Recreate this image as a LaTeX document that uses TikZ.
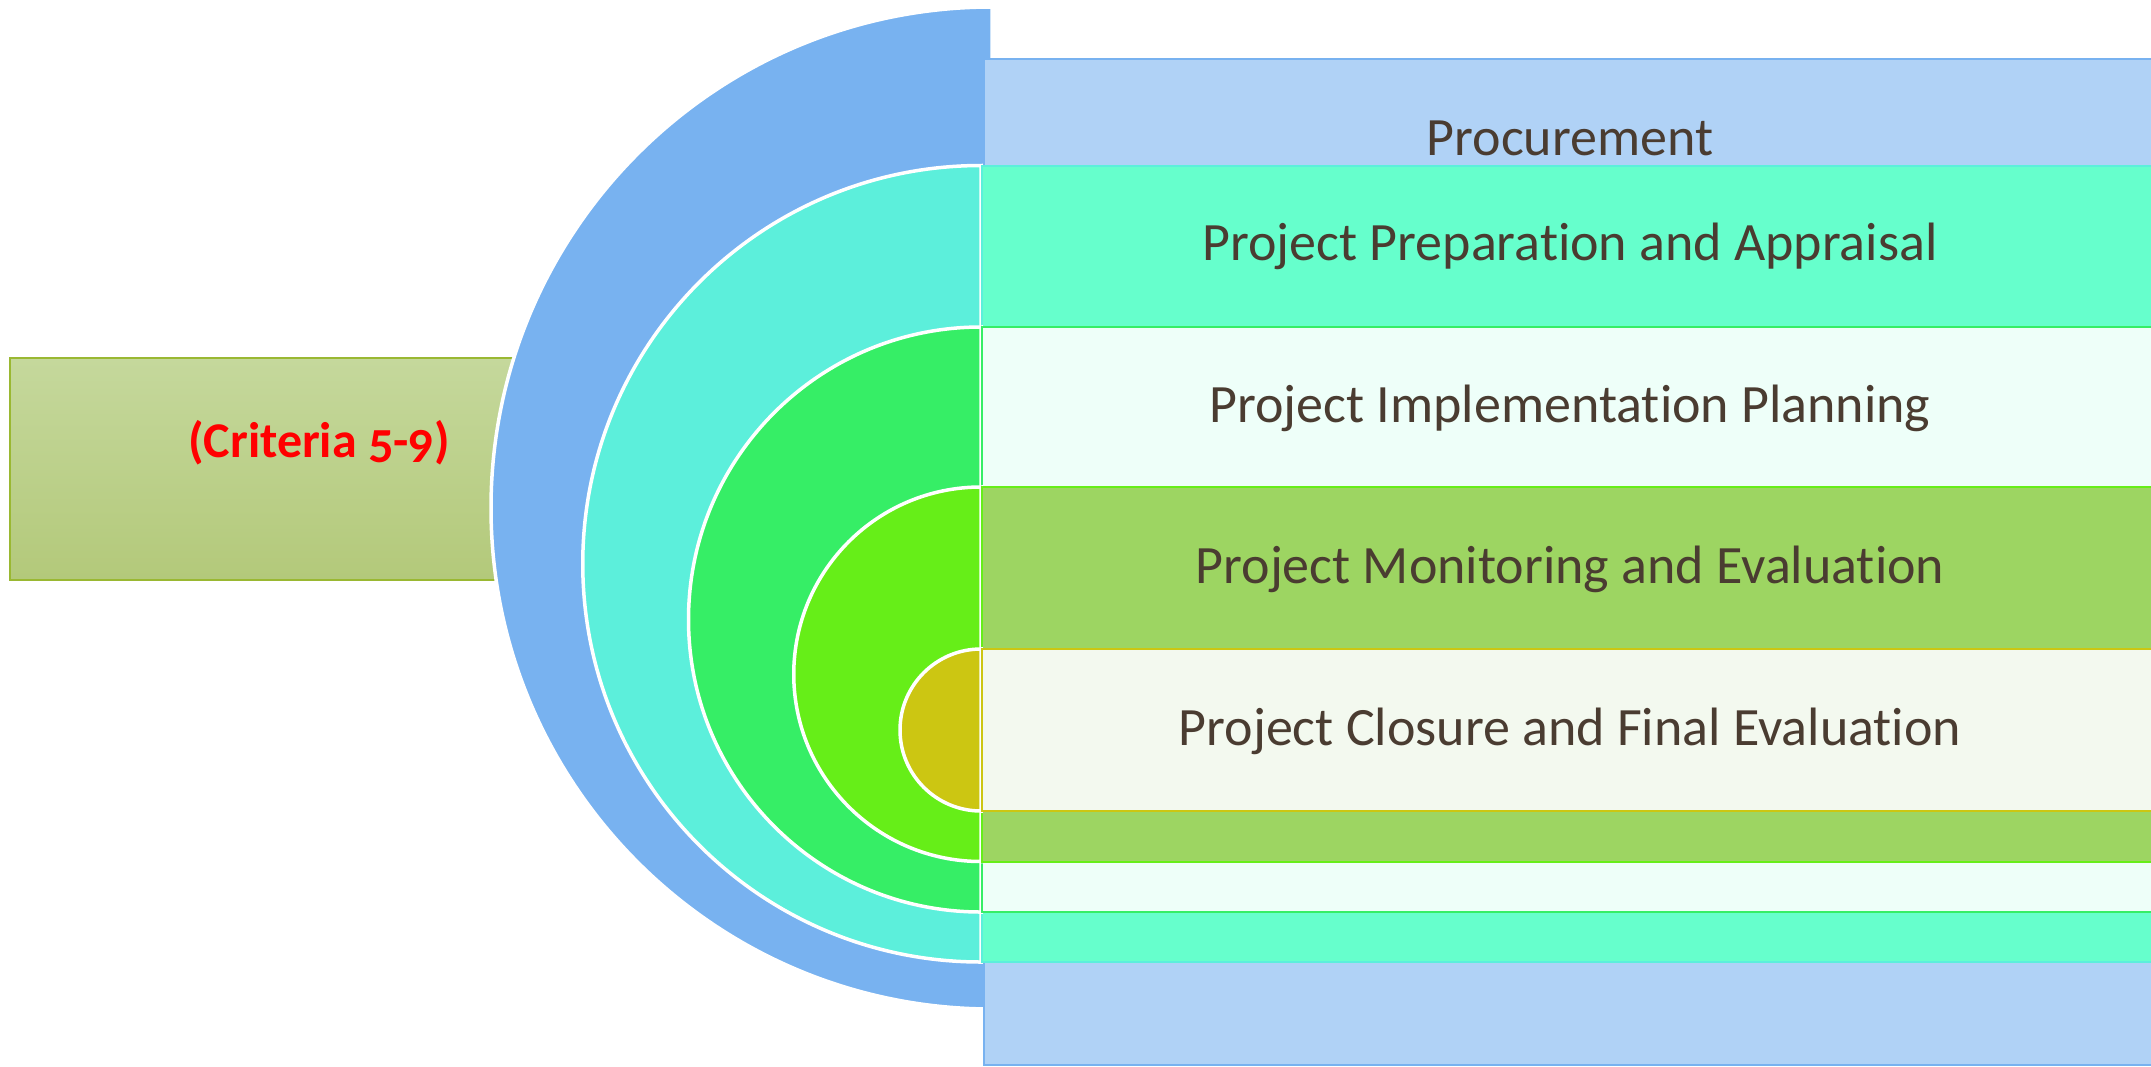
\documentclass[tikz,border=0pt]{standalone}
\usepackage{fontspec}
\setmainfont{Carlito}[Ligatures=CommonOff]
\definecolor{stagetext}{HTML}{4A3C31}
\definecolor{critTop}{HTML}{C5D89C}
\definecolor{critBottom}{HTML}{B3C97A}
\definecolor{critLine}{HTML}{9AB832}
\definecolor{blueDisc}{HTML}{78B2F0}
\definecolor{blueBand}{HTML}{B0D2F6}
\definecolor{cyanDisc}{HTML}{5CEFDB}
\definecolor{cyanBand}{HTML}{66FFCC}
\definecolor{greenDisc}{HTML}{36EE66}
\definecolor{lightBand}{HTML}{EEFFF9}
\definecolor{limeDisc}{HTML}{66EE18}
\definecolor{greenBand}{HTML}{9DD562}
\definecolor{oliveDisc}{HTML}{CCC612}
\definecolor{paleBand}{HTML}{F3F9EF}

\begin{document}
\begin{tikzpicture}[x=1pt,y=-1pt,
		half disc/.style={draw=white,line width=3.5pt},
		band/.style={line width=2pt},
		stage text/.style={anchor=base,text=stagetext,font=\fontsize{54}{60}\selectfont}]
	\useasboundingbox (0,0) rectangle (2151,1066);

	% criteria box, half hidden behind the big disc
	\shade[top color=critTop,bottom color=critBottom,draw=critLine,line width=2pt]
		(10,358) rectangle (560,580);
	\node[anchor=base,text=red,font=\bfseries\fontsize{50}{60}\selectfont\addfontfeatures{Numbers=OldStyle}] (crit) at (319,457) {(Criteria 5-9)};

	% discs and bands, outermost first
	\path[half disc,fill=blueDisc] (992,7) arc[start angle=90,end angle=270,radius=501pt] -- cycle;
	\path[band,fill=blueBand,draw=blueDisc] (984,59) rectangle (2160,1065);

	\path[half disc,fill=cyanDisc] (981,165.5) arc[start angle=90,end angle=270,radius=398.25pt] -- cycle;
	\path[band,fill=cyanBand,draw=cyanDisc] (982,166) rectangle (2160,962);

	\path[half disc,fill=greenDisc] (981,327) arc[start angle=90,end angle=270,radius=292.5pt] -- cycle;
	\path[band,fill=lightBand,draw=greenDisc] (982,327) rectangle (2160,912);

	\path[half disc,fill=limeDisc] (981,487) arc[start angle=90,end angle=270,radius=187.25pt] -- cycle;
	\path[band,fill=greenBand,draw=limeDisc] (982,487) rectangle (2160,862);

	\path[half disc,fill=oliveDisc] (981,649) arc[start angle=90,end angle=270,radius=81pt] -- cycle;
	\path[band,fill=paleBand,draw=oliveDisc] (982,649) rectangle (2160,811);

	% stage labels
	\node[stage text] (proc) at (1570,155) {Procurement};
	\node[stage text] (prep) at (1570,260) {Project Preparation and Appraisal};
	\node[stage text] (impl) at (1570,422) {Project Implementation Planning};
	\node[stage text] (mon)  at (1570,583) {Project Monitoring and Evaluation};
	\node[stage text] (clos) at (1570,745) {Project Closure and Final Evaluation};
\end{tikzpicture}
\end{document}
